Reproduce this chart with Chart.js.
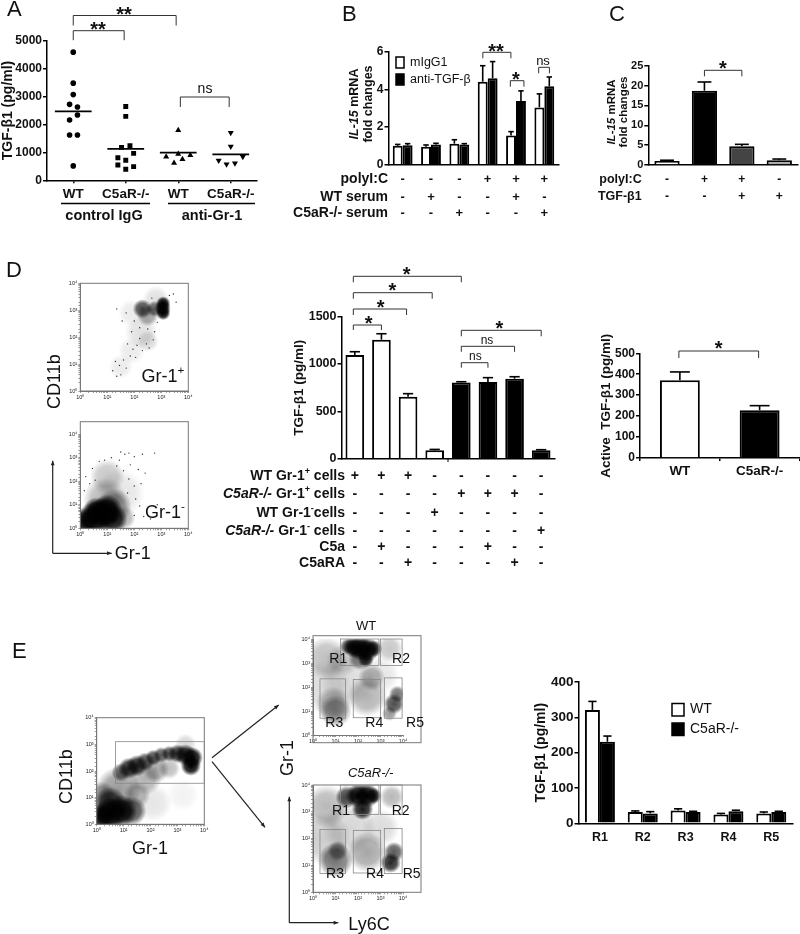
<!DOCTYPE html>
<html><head><meta charset="utf-8">
<style>html,body{margin:0;background:#fff}#page{position:relative;width:800px;height:934px;overflow:hidden;background:#fff}canvas{position:absolute}</style>
<script src="https://cdn.jsdelivr.net/npm/chart.js@4"></script>
</head><body><div id="page"></div>
<script>
/* ---------- DATA ---------- */
// Panel A
const aCategories=['WT','C5aR-/-','WT','C5aR-/-'];
const aWT=[[1,4590],[1,3480],[1,3070],[.93,2720],[1.08,2625],[1.08,2340],[.93,2160],[.93,1620],[1.08,1620],[1,515]];
const aKO=[[2,2640],[2,2290],[1.92,1180],[2.08,1240],[2.15,965],[1.85,810],[2,715],[1.85,550],[2.15,490],[2,395]];
const aWTanti=[[3,1790],[3,945],[2.77,845],[3.23,895],[3.08,750],[2.92,620]];
const aKOanti=[[4,1705],[4,1215],[4.23,845],[3.77,705],[3.92,575],[4.08,610]];
const aMeans=[2470,1125,990,930];
// Panel B
const bGroups=['g1','g2','g3','g4','g5','g6'];
const bIgG=[1.01,.96,1.12,4.42,1.55,3.05];
const bIgGTop=[1.08,1.05,1.33,5.27,1.76,3.77];
const bAnti=[1.03,1.08,1.07,4.6,3.39,4.17];
const bAntiTop=[1.12,1.14,1.12,5.49,3.93,4.67];
const bPoly=['-','-','-','+','+','+'];
const bWTserum=['-','+','-','-','+','-'];
const bKOserum=['-','-','+','-','-','+'];
// Panel C
const cGroups=['c1','c2','c3','c4'];
const cValues=[1.0,18.7,4.7,1.2];
const cTop=[1.2,20.9,5.2,1.5];
const cColors=['#ffffff','#000000','#444444','#aaaaaa'];
const cPoly=['-','+','+','-'];
const cTGF=['-','-','+','+'];
// Panel D bars
const dGroups=['d1','d2','d3','d4','d5','d6','d7','d8'];
const dValues=[1095,1257,655,88,806,810,845,88];
const dTop=[1130,1320,687,98,813,856,866,95];
const dColors=['#fff','#fff','#fff','#fff','#000','#000','#000','#000'];
const dRowWTp=['+','+','+','-','-','-','-','-'];
const dRowKOp=['-','-','-','-','+','+','+','-'];
const dRowWTn=['-','-','-','+','-','-','-','-'];
const dRowKOn=['-','-','-','-','-','-','-','+'];
const dRowC5a=['-','+','-','-','-','+','-','-'];
const dRowRA=['-','-','+','-','-','-','+','-'];
// Panel D active
const d2Categories=['WT','C5aR-/-'];
const d2Values=[371,228];
const d2Top=[411,250];
// Panel E bars
const eCategories=['R1','R2','R3','R4','R5'];
const eWT=[321,32,36,25,28];
const eWTTop=[345,35,41,28,32];
const eKO=[231,28,32,34,32];
const eKOTop=[247,33,34,37,34];
// Flow density estimates: [log10 x, log10 y, radius in decades, darkness]
const flowD1=[[3.07,3.25,.27,1],[3.07,2.9,.27,1],[3.05,3.07,.3,1],[2.75,3.05,.3,.6],[2.3,3.05,.36,.72],[2.5,2.8,.4,.38],[2.25,2.2,.6,.12],[2.5,1.85,.4,.14],[1.9,1.5,.5,.08],[1.5,.9,.45,.08],[2.8,3.4,.5,.12],[1.9,2.9,.5,.08]];
const flowD2=[[.85,.6,.6,1],[.5,.4,.62,1],[1.0,.8,.55,1],[.6,.75,.5,1],[.2,.3,.5,.95],[1.2,.4,.55,.95],[1.25,.95,.65,.45],[.9,1.25,.8,.28],[1.0,2.2,.65,.22],[1.5,1.5,.9,.1],[1.6,.45,.45,.3]];
const flowE1=[[.5,.4,.6,1],[.2,.3,.5,1],[.9,.5,.6,1],[.5,.8,.6,.8],[1.3,.5,.55,.7],[.2,1.1,.5,.4],[.8,1.3,.85,.4],[1.5,1.1,.5,.3],[.9,1.95,.35,.6],[1.2,2.1,.4,.85],[1.5,2.2,.4,.85],[1.8,2.35,.35,.7],[2.1,2.5,.3,.7],[2.4,2.6,.3,.65],[2.7,2.65,.3,.7],[3.0,2.65,.35,.8],[3.3,2.6,.4,.9],[3.55,2.5,.4,1],[3.5,2.2,.38,1],[2.2,2.05,.5,.35],[2.7,2.1,.4,.25],[1.8,1.7,.6,.3],[2.1,.8,.7,.1],[3.2,1.1,.6,.05],[3.3,3,.4,.15]];
const flowWT=[[2.1,3.6,.45,1],[2.4,3.55,.45,1],[1.8,3.65,.38,1],[1.55,3.7,.3,.7],[2.7,3.6,.32,.85],[2.35,3.15,.3,.85],[2.1,3.2,.45,.55],[2.6,2.4,.5,.3],[2.4,1.6,.75,.3],[.6,3.2,.8,.25],[1,1,.6,.42],[.9,1.3,.65,.3],[3.6,1.3,.38,.7],[3.75,1.7,.32,.55],[3.4,.9,.28,.4],[3.4,3.6,.5,.22],[1.5,2.3,1,.14],[.5,2,1,.14],[3,2.5,.7,.1],[1.3,3.1,.6,.18]];
const flowKO=[[2.0,3.6,.45,1],[2.4,3.6,.45,1],[2.7,3.6,.3,.85],[1.5,3.55,.42,.75],[2.2,3.1,.4,.9],[1,1.2,.65,.55],[1.1,1.55,.38,.45],[3.45,1.1,.38,.85],[3.6,1.5,.38,.65],[2.4,1.5,.75,.35],[3.5,3.55,.45,.28],[.6,3.2,.8,.28],[.5,2,1,.2],[1.6,2.4,1,.16],[3,2.4,.7,.14]];
// Hand-read sparse events: [log10 x, log10 y]
const dotsD1=[[1.35,.55],[1.2,.75],[1.5,.6],[1.45,.95],[1.6,1.15],[1.7,.85],[1.85,1.3],[1.95,1.55],[2.1,1.7],[2.05,1.25],[2.3,1.5],[2.45,1.75],[2.55,1.6],[2.7,1.9],[2.2,1.95],[1.9,2.2],[2.2,2.35],[2.5,2.3],[2.75,2.2],[2.0,2.6],[1.7,2.9],[1.35,3.05],[1.55,2.6],[2.85,2.55],[3.3,3.55],[3.45,3.6],[3.55,3.3],[2.65,3.45],[1.75,1.75],[1.3,1.1]];
const dotsD2=[[.45,2.55],[.7,2.85],[.9,2.9],[1.15,3.0],[1.5,3.25],[1.65,3.15],[1.8,3.2],[2.0,3.05],[2.3,3.15],[2.75,3.2],[1.35,2.65],[1.6,2.45],[1.85,2.7],[2.15,2.5],[2.4,2.35],[2.25,1.9],[2.0,1.8],[1.8,2.1],[.2,2.2],[.35,1.9],[.15,1.6],[1.75,1.5],[2.05,1.25],[2.2,.95],[2.0,.55],[2.35,.5],[2.6,.4],[2.85,1.0],[.55,2.05],[1.45,2.9]];
// Flow gates in log10 units: [x0,x1,y0,y1]
const gateE1=[.7,4,1.54,3.1];
const gatesR=[[1.22,2.93,2.9,4],[3.0,3.96,2.9,4],[.31,1.44,.7,2.34],[1.79,3.0,.72,2.31],[3.17,3.96,.7,2.38]];

/* ---------- HELPERS ---------- */
const FF='"Liberation Sans",Arial,sans-serif', INK='#111';
Chart.defaults.font.family=FF;
Chart.defaults.animation=false;
const page=document.getElementById('page');
function rich(g,segs,x,y,o={}){
  const {size=12,weight='bold',align='left',rot=0,color=INK}=o;
  const f=s=>`${s.italic?'italic ':''}${s.weight||weight} ${s.sup?size*.65:size}px ${FF}`;
  let w=0;segs.forEach(s=>{g.font=f(s);w+=g.measureText(s.t).width});
  g.save();g.translate(x,y);g.rotate(rot);g.fillStyle=color;g.textBaseline='middle';g.textAlign='left';
  let cx=align==='right'?-w:align==='center'?-w/2:0;
  segs.forEach(s=>{g.font=f(s);g.fillText(s.t,cx,s.sup?-size*.33:0);cx+=g.measureText(s.t).width});
  g.restore();
}
const txt=(g,t,x,y,o={})=>rich(g,[{t}],x,y,Object.assign({align:'center'},o));
function star(g,x,y,n=1,size=20){g.save();g.font=`bold ${size}px ${FF}`;g.fillStyle=INK;g.textAlign='center';g.textBaseline='alphabetic';g.fillText('*'.repeat(n),x,y+size*.56);g.restore()}
function line(g,pts,c='#333',w=1){g.save();g.strokeStyle=c;g.lineWidth=w;g.beginPath();pts.forEach((p,i)=>i?g.lineTo(p[0],p[1]):g.moveTo(p[0],p[1]));g.stroke();g.restore()}
function bracket(g,x0,x1,y,drop){line(g,[[x0,y+drop],[x0,y],[x1,y],[x1,y+drop]],'#333',1)}
function arrow(g,x0,y0,x1,y1,c='#222'){line(g,[[x0,y0],[x1,y1]],c,1.2);const a=Math.atan2(y1-y0,x1-x0),l=5;g.save();g.fillStyle=c;g.beginPath();g.moveTo(x1,y1);g.lineTo(x1-l*Math.cos(a-.4),y1-l*Math.sin(a-.4));g.lineTo(x1-l*Math.cos(a+.4),y1-l*Math.sin(a+.4));g.closePath();g.fill();g.restore()}
function errorBars(chart,capRatio=.55){
  const ys=chart.scales.y,g=chart.ctx,box=chart.$box;
  g.save();g.translate(box.x,box.y);
  chart.data.datasets.forEach((d,i)=>{if(!d.errorTop)return;chart.getDatasetMeta(i).data.forEach((b,j)=>{
    const t=ys.getPixelForValue(d.errorTop[j]),cap=b.width*capRatio/2;
    line(g,[[b.x,b.y],[b.x,t]],'#000',1.6);line(g,[[b.x-cap,t],[b.x+cap,t]],'#000',1.6);
  })});
  g.restore();
}
function place(box,plot,cfg,overlay){
  const c=document.createElement('canvas');c.width=box.w;c.height=box.h;
  c.style.left=box.x+'px';c.style.top=box.y+'px';c.style.width=box.w+'px';c.style.height=box.h+'px';page.appendChild(c);
  cfg.options=cfg.options||{};const op=cfg.options;
  op.responsive=false;op.devicePixelRatio=1;op.animation=false;
  op.layout={padding:{top:plot.t-box.y,right:box.x+box.w-plot.r,left:0,bottom:0}};
  op.plugins=Object.assign({legend:{display:false},tooltip:{enabled:false}},op.plugins||{});
  op.scales.x.afterFit=s=>{s.height=box.y+box.h-plot.b};
  op.scales.y.afterFit=s=>{s.width=plot.l-box.x};
  cfg.plugins=[{id:'overlay',afterDraw(chart){
    chart.$box=box;
    const g=chart.ctx;g.save();g.translate(-box.x,-box.y);
    const X=v=>chart.scales.x.getPixelForValue(v)+box.x;
    const Y=v=>chart.scales.y.getPixelForValue(v)+box.y;
    overlay&&overlay(g,X,Y,chart);g.restore();
  }}];
  return new Chart(c,cfg);
}
function yAxis(max,step,size,title,titleSize,titleCenter){
  const o={min:0,max,border:{color:'#000',width:1.5},grid:{drawOnChartArea:false,drawTicks:true,tickLength:4,color:'#000',lineWidth:1.5},
    ticks:{stepSize:step,color:INK,padding:1,font:{size,weight:'bold'},format:{useGrouping:false}}};
  if(title)o.title={display:true,text:title,color:INK,font:{size:titleSize,weight:'bold'},padding:{top:titleCenter-titleSize*.6}};
  return o;
}
function xAxis(showLabels,size,tick,pad=2){
  return {border:{color:'#000',width:1.5},grid:{display:true,drawOnChartArea:false,drawTicks:tick>0,tickLength:tick,color:'#000',lineWidth:1.5},
    ticks:{display:showLabels,color:INK,padding:pad,maxRotation:0,autoSkip:false,font:{size,weight:'bold'}}};
}
function rows(g,X,labels,cols,ys,labelX,size,signSize){
  labels.forEach((segs,r)=>{
    rich(g,segs,labelX,ys[r],{size,align:'right'});
    cols[r].forEach((s,i)=>txt(g,s,X(i),ys[r],{size:signSize}));
  });
}
function letter(g,t,x,y){rich(g,[{t,weight:'normal'}],x,y,{size:22,color:'#111'})}
const barSet=(data,top,bg,label)=>({label,data,errorTop:top,backgroundColor:bg,borderColor:'#000',borderWidth:2,borderSkipped:'bottom'});

/* ---------- PANEL A ---------- */
const ptSet=(pts,style,rot=0,r=3.5)=>({type:'scatter',data:pts.map(p=>({x:p[0],y:p[1]})),pointStyle:style,rotation:rot,pointRadius:r,backgroundColor:'#000',borderColor:'#000',borderWidth:0});
const meanSet=i=>({type:'line',data:[{x:i+1-.35,y:aMeans[i]},{x:i+1+.35,y:aMeans[i]}],borderColor:'#000',borderWidth:1.6,pointRadius:0,parsing:false});
place({x:0,y:0,w:295,h:232},{l:47,t:40.7,r:257,b:180.3},{type:'scatter',data:{datasets:[
  ptSet(aWT,'circle',0,2.8),ptSet(aKO,'rect'),ptSet(aWTanti,'triangle'),ptSet(aKOanti,'triangle',180),
  meanSet(0),meanSet(1),meanSet(2),meanSet(3)]},
  options:{scales:{
    x:Object.assign(xAxis(true,13.5,3),{type:'linear',min:.5,max:4.5,
      afterBuildTicks(s){s.ticks=aCategories.map((c,i)=>({value:i+1}))},
      ticks:{color:INK,padding:3,autoSkip:false,maxRotation:0,font:{size:13.5,weight:'bold'},callback:v=>aCategories[v-1]||''}}),
    y:yAxis(5000,1000,12,'TGF-β1 (pg/ml)',14,8.5)}}},
  (g,X,Y)=>{
    letter(g,'A',7,10);
    bracket(g,X(1),X(2.96),15.5,10);star(g,124,10,2);
    bracket(g,X(1),X(1.97),30.7,9.5);star(g,98,25,2);
    bracket(g,X(3.04),X(3.97),97,10);txt(g,'ns',205,89,{weight:'normal',size:14});
    line(g,[[61,203.5],[150,203.5]],'#000',1.5);line(g,[[168,203.5],[255,203.5]],'#000',1.5);
    txt(g,'control IgG',104,216,{size:14.5});txt(g,'anti-Gr-1',212,216,{size:14.5});
  });

/* ---------- PANEL B ---------- */
place({x:270,y:0,w:295,h:225},{l:388.5,t:52,r:558.5,b:164.7},{type:'bar',data:{labels:bGroups,datasets:[
  barSet(bIgG,bIgGTop,'#fff','mIgG1'),barSet(bAnti,bAntiTop,'#000','anti-TGF-β')]},
  options:{datasets:{bar:{categoryPercentage:.7,barPercentage:1}},scales:{x:xAxis(false,12,0),y:yAxis(6,2,12)}}},
  (g,X,Y,chart)=>{
    errorBars(chart);
    letter(g,'B',342,15);
    chart.data.datasets.forEach((d,i)=>{
      const ty=[62.5,79.5][i];
      g.fillStyle=d.backgroundColor;g.strokeStyle='#000';g.lineWidth=1.5;
      g.fillRect(396,ty-5.5,8,11);g.strokeRect(396,ty-5.5,8,11);
      rich(g,[{t:d.label,weight:'normal'}],410,ty,{size:12.5});
    });
    rich(g,[{t:'IL-15',italic:true},{t:' mRNA'}],355,104,{size:12.5,align:'center',rot:-Math.PI/2});
    txt(g,'fold changes',369,104,{size:12.5,rot:-Math.PI/2});
    bracket(g,X(2.83),X(3.82),52.3,6);star(g,496,46.7,2);
    bracket(g,X(3.8),X(4.28),80.7,6);star(g,516,75);
    bracket(g,X(4.8),X(5.18),67.3,6);txt(g,'ns',543,61.5,{weight:'normal',size:13});
    rows(g,X,[[{t:'polyI:C'}],[{t:'WT serum'}],[{t:'C5aR-/- serum'}]],[bPoly,bWTserum,bKOserum],[179,197,213],388,14,13);
  });

/* ---------- PANEL C ---------- */
place({x:590,y:0,w:210,h:210},{l:648.3,t:65.7,r:798,b:165},{type:'bar',data:{labels:cGroups,datasets:[
  Object.assign(barSet(cValues,cTop,cColors,'fold'),{barPercentage:.675,categoryPercentage:1})]},
  options:{scales:{x:xAxis(false,12,0),y:yAxis(25,5,11)}}},
  (g,X,Y,chart)=>{
    errorBars(chart);
    letter(g,'C',609,15);
    rich(g,[{t:'IL-15',italic:true},{t:' mRNA'}],612,112,{size:11.5,align:'center',rot:-Math.PI/2});
    txt(g,'fold changes',624,112,{size:11.5,rot:-Math.PI/2});
    bracket(g,X(1),X(2),70.3,6);star(g,723,64);
    rows(g,X,[[{t:'polyI:C'}],[{t:'TGF-β1'}]],[cPoly,cTGF],[180,197],641.7,12.5,12);
  });

/* ---------- PANEL D BARS ---------- */
place({x:215,y:262,w:346,h:312},{l:341.5,t:316.7,r:554.5,b:458.7},{type:'bar',data:{labels:dGroups,datasets:[
  Object.assign(barSet(dValues,dTop,dColors,'TGF'),{barPercentage:.7,categoryPercentage:1})]},
  options:{scales:{x:xAxis(false,12,0),y:yAxis(1500,500,12.5,'TGF-β1 (pg/ml)',13.5,84.3)}}},
  (g,X,Y,chart)=>{
    errorBars(chart);
    line(g,[[X(3.5),458.7],[X(3.5),462]],'#000',1);
    const L=X(0)-1.5;
    bracket(g,L,X(4),276.3,6);star(g,406.7,270);
    bracket(g,L,X(3)-2.5,292.7,6);star(g,392.3,286);
    bracket(g,L,X(2)-1.5,309,6);star(g,380.7,302.3);
    bracket(g,L,X(1),325,5);star(g,368.7,318.7);
    bracket(g,X(4),X(7),330.3,6);star(g,499.3,324);
    bracket(g,X(4),X(6),346.3,5.5);txt(g,'ns',487,340.5,{weight:'normal',size:12});
    bracket(g,X(4),X(5),362.7,5);txt(g,'ns',475.3,356.5,{weight:'normal',size:12});
    const ko={t:'C5aR-/-',italic:true};
    rows(g,X,[
      [{t:'WT Gr-1'},{t:'+',sup:true},{t:' cells'}],
      [ko,{t:' Gr-1'},{t:'+',sup:true},{t:' cells'}],
      [{t:'WT Gr-1'},{t:'-',sup:true},{t:'cells'}],
      [ko,{t:' Gr-1'},{t:'-',sup:true},{t:' cells'}],
      [{t:'C5a'}],[{t:'C5aRA'}]],
      [dRowWTp,dRowKOp,dRowWTn,dRowKOn,dRowC5a,dRowRA],[476,494.3,512.7,531,547.3,563.3],345,14,14);
  });

/* ---------- PANEL D ACTIVE ---------- */
place({x:596,y:325,w:204,h:160},{l:640,t:353.3,r:799.5,b:458},{type:'bar',data:{labels:d2Categories,datasets:[
  Object.assign(barSet(d2Values,d2Top,['#fff','#000'],'Active'),{barPercentage:.5,categoryPercentage:1})]},
  options:{scales:{x:xAxis(true,13.5,3),y:yAxis(500,100,12,'Active  TGF-β1 (pg/ml)',13.5,10)}}},
  (g,X,Y,chart)=>{
    errorBars(chart,.5);
    bracket(g,X(0)-1,X(1)-1,351,7);star(g,718.7,344);
  });

/* ---------- PANEL E BARS ---------- */
place({x:530,y:665,w:270,h:195},{l:578.5,t:682,r:792.7,b:823.3},{type:'bar',data:{labels:eCategories,datasets:[
  barSet(eWT,eWTTop,'#fff','WT'),barSet(eKO,eKOTop,'#000','C5aR-/-')]},
  options:{datasets:{bar:{categoryPercentage:.7,barPercentage:1}},scales:{x:xAxis(true,12.5,0,7),y:yAxis(400,100,13.5,'TGF-β1 (pg/ml)',14,11)}}},
  (g,X,Y,chart)=>{
    errorBars(chart);
    chart.data.datasets.forEach((d,i)=>{
      const ty=[709.5,729][i];
      g.fillStyle=d.backgroundColor;g.strokeStyle='#000';g.lineWidth=1.5;
      g.fillRect(672,ty-6,12,12.5);g.strokeRect(672,ty-6,12,12.5);
      rich(g,[{t:d.label,weight:'normal'}],690,ty,{size:14});
    });
  });

/* ---------- FLOW PLOTS ---------- */
const pow=['10⁰','10¹','10²','10³','10⁴'];
function logAxis(){return {type:'logarithmic',min:1,max:10000,border:{color:'#777',width:1},
  grid:{drawOnChartArea:false,drawTicks:true,tickLength:2,color:'#777',lineWidth:.7},
  ticks:{autoSkip:false,maxRotation:0,padding:1,color:'#222',font:{size:5.5},
    callback:v=>{const l=Math.log10(v);return Number.isInteger(l)?pow[l]:''}}}}
function flow(box,plot,blobs,overlay,dots){
  const pxPerDecade=(plot.r-plot.l)/4;
  const sets=[{
    data:blobs.map(b=>({x:10**b[0],y:10**b[1],r:b[2]*pxPerDecade,a:b[3]})),
    borderWidth:0,
    backgroundColor(ctx){
      const raw=ctx.raw,ch=ctx.chart;if(!raw||!ch.scales.x)return '#000';
      const px=ch.scales.x.getPixelForValue(raw.x),py=ch.scales.y.getPixelForValue(raw.y);
      if(!isFinite(px)||!isFinite(py)||!isFinite(raw.r))return '#000';
      const gr=ch.ctx.createRadialGradient(px,py,0,px,py,raw.r);
      gr.addColorStop(0,`rgba(0,0,0,${raw.a})`);gr.addColorStop(.6,`rgba(0,0,0,${raw.a*.8})`);gr.addColorStop(1,'rgba(0,0,0,0)');
      return gr;
    }}];
  if(dots)sets.push({type:'scatter',data:dots.map(d=>({x:10**d[0],y:10**d[1]})),pointRadius:.7,borderWidth:0,backgroundColor:'#333'});
  return place(box,plot,{type:'bubble',data:{datasets:sets},
    options:{scales:{x:logAxis(),y:logAxis()}}},
    (g,X,Y,chart)=>{
      g.strokeStyle='#777';g.lineWidth=1;g.strokeRect(plot.l,plot.t,plot.r-plot.l,plot.b-plot.t);
      overlay&&overlay(g,X,Y);
    });
}
const L10=v=>10**v;
function gate(g,X,Y,q,c='#888'){g.strokeStyle=c;g.lineWidth=.8;g.strokeRect(X(L10(q[0])),Y(L10(q[3])),X(L10(q[1]))-X(L10(q[0])),Y(L10(q[2]))-Y(L10(q[3])))}
const thin=(g,t,x,y,size=18,extra={})=>rich(g,[{t,weight:'normal',italic:extra.italic}],x,y,Object.assign({size,align:'center'},extra));

flow({x:0,y:262,w:235,h:153},{l:80.3,t:283.3,r:188.3,b:391},flowD1,(g)=>{
  letter(g,'D',6,271);
  rich(g,[{t:'CD11b',weight:'normal'}],55,381.7,{size:18,align:'center',rot:-Math.PI/2});
  rich(g,[{t:'Gr-1',weight:'normal'},{t:'+',sup:true,weight:'normal'}],163,377,{size:18,align:'center'});
},dotsD1);
flow({x:0,y:410,w:235,h:160},{l:80.3,t:421.7,r:188.3,b:528.3},flowD2,(g)=>{
  rich(g,[{t:'Gr-1',weight:'normal'},{t:'-',sup:true,weight:'normal'}],165,513,{size:18,align:'center'});
  arrow(g,52.7,553.3,52.7,460.7);arrow(g,52.7,553.3,111.7,553.3);
  thin(g,'Gr-1',132.7,554,18);
},dotsD2);
flow({x:0,y:640,w:290,h:225},{l:96.7,t:717.7,r:204.3,b:824.3},flowE1,(g,X,Y)=>{
  letter(g,'E',12,652);
  gate(g,X,Y,gateE1);
  rich(g,[{t:'CD11b',weight:'normal'}],66.7,776.7,{size:18,align:'center',rot:-Math.PI/2});
  thin(g,'Gr-1',150,849,18);
  arrow(g,212,757.7,278.7,705);arrow(g,212,761.7,265,827.3);
});
const rLabels=['R1','R2','R3','R4','R5'];
flow({x:280,y:612,w:150,h:150},{l:313,t:635.7,r:421,b:742.7},flowWT,(g,X,Y)=>{
  gatesR.forEach(q=>gate(g,X,Y,q));
  thin(g,'WT',366,626,13);
  [[338.3,659.3],[401,659.3],[334.3,722.7],[374.3,722.7],[415,722.7]].forEach((p,i)=>thin(g,rLabels[i],p[0],p[1],14));
});
flow({x:280,y:735,w:150,h:199},{l:313,t:785,r:421,b:892.3},flowKO,(g,X,Y)=>{
  gatesR.forEach(q=>gate(g,X,Y,q));
  thin(g,'C5aR-/-',370.7,773.3,13,{italic:true});
  [[341,811],[400.7,811],[335,874],[375,874],[411.7,874]].forEach((p,i)=>thin(g,rLabels[i],p[0],p[1],14));
  rich(g,[{t:'Gr-1',weight:'normal'}],287.7,758,{size:18,align:'center',rot:-Math.PI/2});
  arrow(g,289.3,922.7,289.3,796.7);arrow(g,289.3,922.7,338.3,922.7);
  thin(g,'Ly6C',369,925,18);
});
</script></body></html>
